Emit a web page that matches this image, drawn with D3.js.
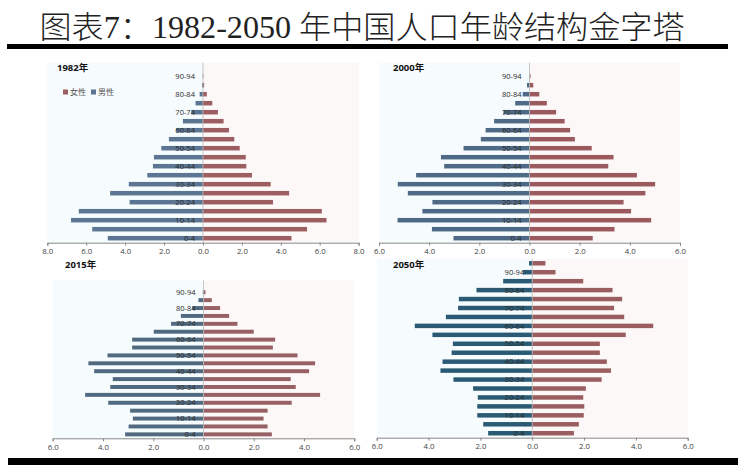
<!DOCTYPE html>
<html>
<head>
<meta charset="utf-8">
<script src="https://cdn.jsdelivr.net/npm/d3@7"></script>
<style>
  html, body { margin: 0; padding: 0; background: #fff; }
  svg { display: block; }
</style>
</head>
<body>
<svg id="chart" width="738" height="465"></svg>
<script>
// ---------- DATA ----------
const chartTitle = "图表7：1982-2050 年中国人口年龄结构金字塔";
const ageGroups = ["0-4","5-9","10-14","15-19","20-24","25-29","30-34","35-39","40-44","45-49",
                   "50-54","55-59","60-64","65-69","70-74","75-79","80-84","85-89","90-94","95+"];
const legendLabels = ["女性", "男性"];
const years = ["1982年", "2000年", "2015年", "2050年"];

const male1982   = [4.89,5.69,6.78,6.38,3.77,4.77,3.81,2.86,2.57,2.52,2.14,1.75,1.37,1.03,0.60,0.38,0.17,0.05,0.01,0];
const female1982 = [4.55,5.35,6.35,6.11,3.60,4.43,3.48,2.52,2.23,2.20,1.89,1.61,1.34,1.06,0.77,0.48,0.20,0.06,0.02,0];
const male2000   = [3.03,3.89,5.26,4.27,3.87,4.85,5.25,4.52,3.40,3.53,2.63,1.94,1.75,1.41,1.04,0.57,0.27,0.10,0.02,0];
const female2000 = [2.52,3.39,4.85,4.05,3.75,4.62,5.01,4.28,3.14,3.35,2.48,1.81,1.62,1.40,1.06,0.69,0.39,0.15,0.04,0];
const male2015   = [3.12,2.98,2.81,2.92,3.79,4.71,3.71,3.61,4.35,4.58,3.82,2.84,2.84,1.98,1.29,0.90,0.45,0.20,0.03,0];
const female2015 = [2.72,2.55,2.39,2.55,3.51,4.64,3.67,3.47,4.20,4.44,3.74,2.76,2.85,2.00,1.35,1.02,0.66,0.33,0.08,0];
const male2050   = [1.70,1.89,2.12,2.12,2.10,2.28,3.04,3.54,3.46,3.11,3.06,3.85,4.53,3.33,2.86,2.83,2.15,1.12,0.35,0.12];
const female2050 = [1.61,1.80,1.99,2.01,1.97,2.07,2.68,3.04,2.88,2.61,2.61,3.61,4.67,3.55,3.16,3.47,3.10,1.97,0.90,0.51];

const ticks8 = [-8,-6,-4,-2,0,2,4,6,8];
const ticks6 = [-6,-4,-2,0,2,4,6];

// ---------- DRAW ----------
const svg = d3.select("#chart");
const CJK = "'Liberation Serif','Noto Sans CJK SC',serif";
const SANS = "'Open Sans','Noto Sans CJK SC',sans-serif";

// Title
svg.append("text")
  .attr("x", 362).attr("y", 38)
  .attr("text-anchor", "middle")
  .attr("textLength", 645).attr("lengthAdjust", "spacingAndGlyphs")
  .style("font-family", CJK).style("font-size", "31px").style("font-weight", 300)
  .attr("fill", "#222")
  .text(chartTitle);
svg.append("rect").attr("x", 7).attr("y", 44).attr("width", 721).attr("height", 5).attr("fill", "#000");
svg.append("rect").attr("x", 8).attr("y", 458).attr("width", 730).attr("height", 7).attr("fill", "#000");

const panels = [
  {year: years[0], male: male1982, female: female1982, max: 8, ticks: ticks8,
   x0: 47.3, x1: 358.6, top: 62.7, bottom: 242.7, tx: 57, ty: 68, legend: true,
   maleColor: "#5b7592", femaleColor: "#9d5e62"},
  {year: years[1], male: male2000, female: female2000, max: 6, ticks: ticks6,
   x0: 379, x1: 680, top: 62.7, bottom: 242.7, tx: 393, ty: 68, legend: false,
   maleColor: "#4f6a86", femaleColor: "#9a5a5e"},
  {year: years[2], male: male2015, female: female2015, max: 6, ticks: ticks6,
   x0: 52.7, x1: 354.3, top: 280.4, bottom: 438.3, tx: 65, ty: 265, legend: false,
   maleColor: "#526a80", femaleColor: "#966064"},
  {year: years[3], male: male2050, female: female2050, max: 6, ticks: ticks6,
   x0: 376.7, x1: 687.7, top: 258.8, bottom: 437.7, tx: 393, ty: 265, legend: false,
   maleColor: "#2a5a74", femaleColor: "#9a5e60"}
];

panels.forEach(p => {
  const g = svg.append("g");
  const x = d3.scaleLinear().domain([-p.max, p.max]).range([p.x0, p.x1]);
  const y = d3.scaleBand().domain(ageGroups).range([p.bottom, p.top]).paddingInner(0.5).paddingOuter(0.25);
  const cx = x(0);

  // very faint background tints
  g.append("rect").attr("x", x(-p.max)).attr("y", p.top).attr("width", cx - x(-p.max)).attr("height", p.bottom - p.top)
    .attr("fill", "#f6fbfd");
  g.append("rect").attr("x", cx).attr("y", p.top).attr("width", x(p.max) - cx).attr("height", p.bottom - p.top)
    .attr("fill", "#fdf8f8");

  // male bars (left)
  g.selectAll("rect.m").data(ageGroups).join("rect").attr("class", "m")
    .attr("x", (d, i) => x(-p.male[i]))
    .attr("y", d => y(d))
    .attr("width", (d, i) => cx - x(-p.male[i]))
    .attr("height", y.bandwidth())
    .attr("fill", p.maleColor);
  // female bars (right)
  g.selectAll("rect.f").data(ageGroups).join("rect").attr("class", "f")
    .attr("x", cx)
    .attr("y", d => y(d))
    .attr("width", (d, i) => x(p.female[i]) - cx)
    .attr("height", y.bandwidth())
    .attr("fill", p.femaleColor);

  // center line
  g.append("line").attr("x1", cx).attr("x2", cx).attr("y1", p.top).attr("y2", p.bottom)
    .attr("stroke", "#b8b8b8").attr("stroke-width", 0.8);

  // category labels (every other)
  g.selectAll("text.cat").data(ageGroups.filter((d, i) => i % 2 === 0)).join("text").attr("class", "cat")
    .attr("x", cx - 8)
    .attr("y", d => y(d) + y.bandwidth() / 2)
    .attr("dy", "0.35em")
    .attr("text-anchor", "end")
    .style("font-family", SANS).style("font-size", "7.5px")
    .attr("fill", "#2a2a2a")
    .text(d => d);

  // bottom axis
  const axis = d3.axisBottom(x).tickValues(p.ticks).tickSize(3).tickPadding(3)
    .tickFormat(d => d3.format(".1f")(Math.abs(d)));
  const ag = g.append("g").attr("transform", `translate(0,${p.bottom})`).call(axis);
  ag.select(".domain").attr("stroke", "#888");
  ag.selectAll(".tick line").attr("stroke", "#888");
  ag.selectAll(".tick text").style("font-family", SANS).style("font-size", "7.8px").attr("fill", "#444");

  // panel title
  g.append("text").attr("x", p.tx).attr("y", p.ty).attr("dy", "0.35em")
    .style("font-family", SANS).style("font-size", "9.5px").style("font-weight", "bold")
    .attr("fill", "#111").text(p.year);

  if (p.legend) {
    const lg = g.append("g").attr("transform", "translate(63,92)");
    const items = [{label: legendLabels[0], color: p.femaleColor}, {label: legendLabels[1], color: p.maleColor}];
    items.forEach((it, i) => {
      const ox = i * 28;
      lg.append("rect").attr("x", ox).attr("y", -2.5).attr("width", 5).attr("height", 5).attr("fill", it.color);
      lg.append("text").attr("x", ox + 7).attr("y", 0).attr("dy", "0.35em")
        .style("font-family", SANS).style("font-size", "8px").attr("fill", "#555").text(it.label);
    });
  }
});
</script>
</body>
</html>
